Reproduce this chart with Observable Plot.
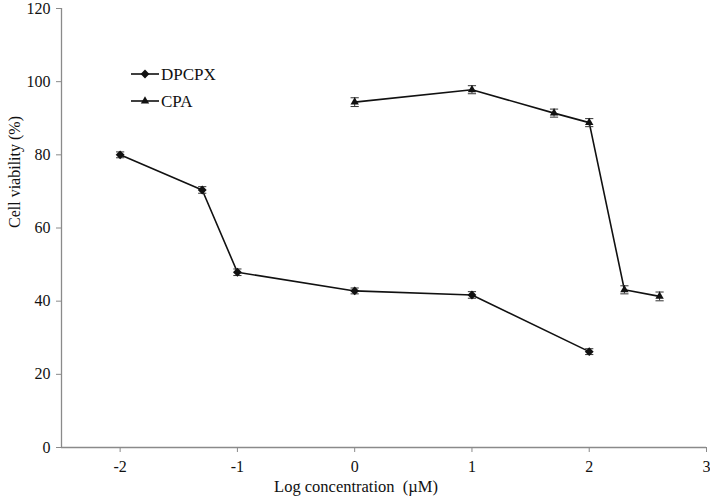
<!DOCTYPE html>
<html>
<head>
<meta charset="utf-8">
<script src="https://cdn.jsdelivr.net/npm/d3@7"></script>
<script src="https://cdn.jsdelivr.net/npm/@observablehq/plot@0.6"></script>
<style>
  body { margin: 0; background: #fff; }
  #wrap { position: relative; width: 710px; height: 502px; }
  #legend { position: absolute; left: 0; top: 0; pointer-events: none; }
</style>
</head>
<body>
<div id="wrap"></div>
<script>
// Data
const dpcpxX   = [-2, -1.3, -1, 0, 1, 2];
const dpcpxY   = [80.0, 70.4, 47.9, 42.8, 41.7, 26.2];
const dpcpxErr = [0.8, 0.9, 0.9, 0.8, 0.9, 0.8];

const cpaX   = [0, 1, 1.7, 2, 2.3, 2.6];
const cpaY   = [94.4, 97.8, 91.4, 88.8, 43.1, 41.3];
const cpaErr = [1.2, 1.1, 1.1, 1.1, 1.1, 1.2];

const xTicks = [-2, -1, 0, 1, 2, 3];
const yTicks = [0, 20, 40, 60, 80, 100, 120];

const seriesNames = ["DPCPX", "CPA"];
const seriesSymbols = ["diamond2", "triangle2"];

const dpcpx = dpcpxX.map((x, i) => ({series: "DPCPX", x, y: dpcpxY[i], e: dpcpxErr[i]}));
const cpa = cpaX.map((x, i) => ({series: "CPA", x, y: cpaY[i], e: cpaErr[i]}));
const all = [...dpcpx, ...cpa];

const font = "Liberation Serif, Times New Roman, serif";
const capHalf = 0.035;

const chart = Plot.plot({
  width: 710,
  height: 502,
  marginLeft: 61,
  marginTop: 8,
  marginBottom: 55,
  marginRight: 4,
  style: {fontFamily: font, fontSize: "16px", color: "#111", background: "#fff"},
  x: {domain: [-2.5, 3]},
  y: {domain: [0, 120]},
  symbol: {domain: seriesNames, range: seriesSymbols},
  marks: [
    Plot.ruleX([-2.5], {stroke: "#8a8a8a", strokeWidth: 1.3}),
    Plot.ruleY([0], {stroke: "#8a8a8a", strokeWidth: 1.3}),
    Plot.axisY({ticks: yTicks, tickSize: 5, tickPadding: 6, stroke: "#8a8a8a", fill: "#111", fontSize: 16,
      label: null}),
    Plot.text(["Cell viability (%)"], {frameAnchor: "left", rotate: -90, dx: -47, fontSize: 16, fill: "#111"}),
    Plot.axisX({ticks: xTicks, tickSize: 5, tickPadding: 8, stroke: "#8a8a8a", fill: "#111", fontSize: 16, label: null, tickFormat: d => String(d)}),
    Plot.text(["Log concentration\u00a0 (\u00b5M)"], {frameAnchor: "bottom", dx: -28, dy: 44, fontSize: 16.5, fill: "#111"}),
    Plot.line(dpcpx, {x: "x", y: "y", stroke: "#111", strokeWidth: 1.6}),
    Plot.line(cpa, {x: "x", y: "y", stroke: "#111", strokeWidth: 1.6}),
    Plot.ruleX(all, {x: "x", y1: d => d.y - d.e, y2: d => d.y + d.e, stroke: "#333", strokeWidth: 1}),
    Plot.link(all, {x1: d => d.x - capHalf, x2: d => d.x + capHalf, y1: d => d.y + d.e, y2: d => d.y + d.e, stroke: "#333", strokeWidth: 1}),
    Plot.link(all, {x1: d => d.x - capHalf, x2: d => d.x + capHalf, y1: d => d.y - d.e, y2: d => d.y - d.e, stroke: "#333", strokeWidth: 1}),
    Plot.dot(all, {x: "x", y: "y", symbol: "series", fill: "#111", stroke: "none", r: 4})
  ]
});
document.getElementById("wrap").appendChild(chart);

// Legend overlay (symbols from the same symbol scale)
const legendRows = seriesNames.map((name, i) => ({name, i}));
const legendY = [74, 101];
const lg = d3.select("#wrap").append("svg")
  .attr("id", "legend").attr("width", 710).attr("height", 502);
const symScale = chart.scale("symbol");
const rows = lg.selectAll("g").data(legendRows).join("g")
  .attr("transform", d => `translate(0,${legendY[d.i]})`);
rows.append("line").attr("x1", 131).attr("x2", 159).attr("y1", 0).attr("y2", 0)
  .attr("stroke", "#111").attr("stroke-width", 1.6);
rows.append("path")
  .attr("transform", "translate(145,0)")
  .attr("d", d => d3.symbol(Plot.scale({symbol: {domain: seriesNames, range: seriesSymbols}}).apply(d.name), 50)())
  .attr("fill", "#111");
rows.append("text").attr("x", 161).attr("y", 0).attr("dy", "0.35em")
  .attr("font-family", font).attr("font-size", 17).attr("fill", "#111")
  .text(d => d.name);
</script>
</body>
</html>
